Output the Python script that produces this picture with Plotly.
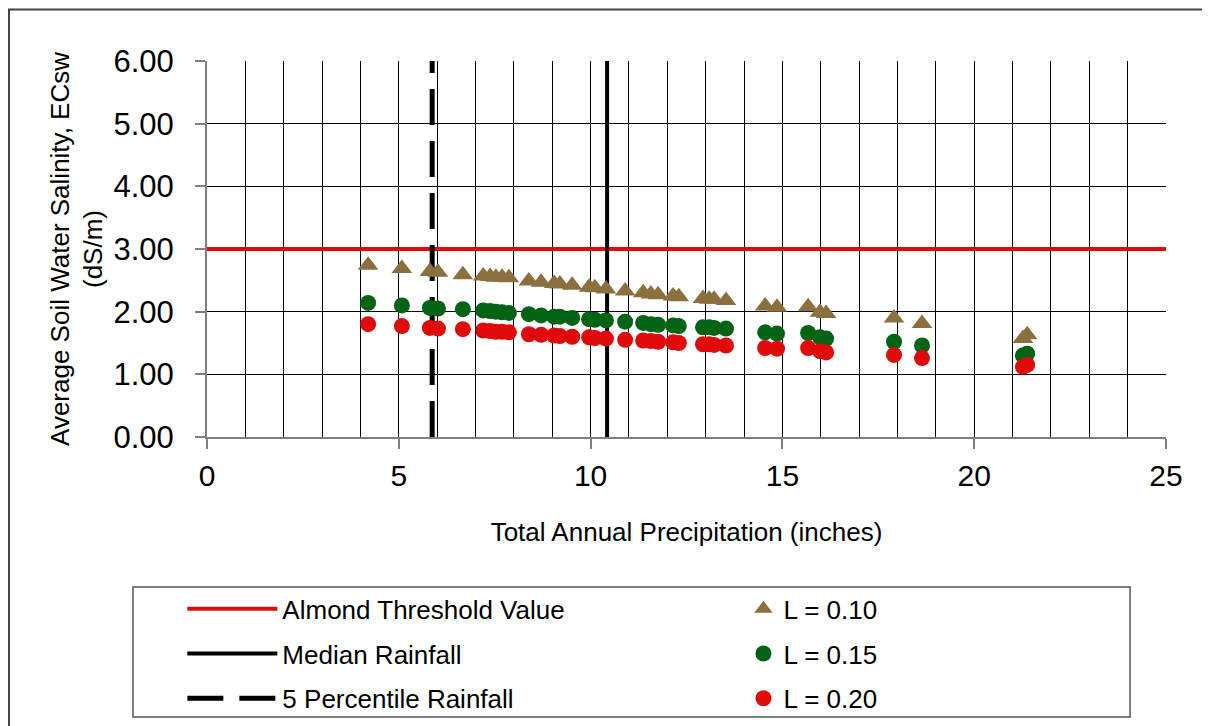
import plotly.graph_objects as go

# Datos
precip = [4.20, 5.08, 5.81, 6.02, 6.67, 7.20, 7.38, 7.53, 7.69, 7.87,
          8.39, 8.71, 9.05, 9.20, 9.52, 9.96, 10.11, 10.40, 10.90, 11.37,
          11.57, 11.76, 12.15, 12.30, 12.93, 13.09, 13.22, 13.53, 14.55, 14.86,
          15.67, 15.98, 16.14, 17.91, 18.64, 21.27, 21.38]

ec_l010 = [2.74, 2.69, 2.64, 2.63, 2.59, 2.57, 2.56, 2.55, 2.55, 2.54,
           2.49, 2.47, 2.45, 2.44, 2.42, 2.39, 2.38, 2.36, 2.33, 2.30,
           2.28, 2.27, 2.25, 2.24, 2.21, 2.20, 2.20, 2.18, 2.09, 2.07,
           2.08, 1.99, 1.97, 1.90, 1.81, 1.57, 1.63]

ec_l015 = [2.14, 2.10, 2.06, 2.05, 2.04, 2.02, 2.01, 2.00, 1.99, 1.98,
           1.96, 1.94, 1.92, 1.92, 1.90, 1.88, 1.87, 1.86, 1.84, 1.82,
           1.80, 1.79, 1.78, 1.77, 1.75, 1.75, 1.74, 1.73, 1.67, 1.65,
           1.66, 1.59, 1.57, 1.52, 1.46, 1.30, 1.33]

ec_l020 = [1.80, 1.77, 1.74, 1.73, 1.72, 1.70, 1.69, 1.68, 1.68, 1.67,
           1.64, 1.63, 1.62, 1.61, 1.60, 1.59, 1.58, 1.57, 1.55, 1.54,
           1.53, 1.52, 1.51, 1.50, 1.48, 1.48, 1.47, 1.46, 1.42, 1.41,
           1.42, 1.37, 1.35, 1.31, 1.26, 1.12, 1.15]

threshold_x = [0, 25]
threshold_y = [3.0, 3.0]
median_x = [10.43, 10.43]
pct5_x = [5.87, 5.87]
vline_y = [0, 6]

font = "Liberation Sans, Arial, sans-serif"

fig = go.Figure()

# Líneas de referencia
fig.add_trace(go.Scatter(
    x=threshold_x, y=threshold_y, mode="lines", name="Almond Threshold Value",
    line=dict(color="#e00a0a", width=4), legend="legend", legendgroup="a", legendrank=1))
fig.add_trace(go.Scatter(
    x=median_x, y=vline_y, mode="lines", name="Median Rainfall",
    line=dict(color="black", width=4), legend="legend", legendgroup="b", legendrank=2))
fig.add_trace(go.Scatter(
    x=pct5_x, y=vline_y, mode="lines", name="5 Percentile Rainfall",
    line=dict(color="black", width=5, dash="36px,16px"), legend="legend",
    legendgroup="c", legendrank=3))

# Series de salinidad
fig.add_trace(go.Scatter(
    x=precip, y=ec_l010, mode="markers", name="L = 0.10",
    marker=dict(symbol="triangle-up", size=18, color="#8b6f3f"),
    legend="legend2", legendgroup="d", legendrank=4))
fig.add_trace(go.Scatter(
    x=precip, y=ec_l015, mode="markers", name="L = 0.15",
    marker=dict(symbol="circle", size=16, color="#006414"),
    legend="legend2", legendgroup="e", legendrank=5))
fig.add_trace(go.Scatter(
    x=precip, y=ec_l020, mode="markers", name="L = 0.20",
    marker=dict(symbol="circle", size=16, color="#e00a0a"),
    legend="legend2", legendgroup="f", legendrank=6))

# la página html añade 8px de margen, así que la figura es 8px más pequeña
fig.update_layout(
    width=1202, height=718,
    margin=dict(l=199, r=44, t=53, b=289),
    paper_bgcolor="white", plot_bgcolor="white",
    font=dict(family=font, color="black"),
    showlegend=True,
    # yref container para que la leyenda no empuje el margen inferior
    legend=dict(x=-0.0257, y=0.196, xanchor="left", yanchor="top", yref="container",
                font=dict(size=26, family=font), bgcolor="rgba(0,0,0,0)",
                itemwidth=90, tracegroupgap=8),
    legend2=dict(x=0.5594, y=0.196, xanchor="left", yanchor="top", yref="container",
                 font=dict(size=26, family=font), bgcolor="rgba(0,0,0,0)",
                 tracegroupgap=8),
    shapes=[
        # recuadro de la leyenda
        dict(type="rect", xref="paper", yref="paper",
             x0=-0.0772, x1=0.9625, y0=-0.399, y1=-0.745,
             line=dict(color="#555555", width=1.5)),
        # marco exterior
        dict(type="rect", xref="paper", yref="paper",
             x0=-0.2065, x1=1.12, y0=1.137, y1=-0.9,
             line=dict(color="#444444", width=2)),
    ],
)

fig.update_xaxes(
    range=[0, 25], dtick=5, tick0=0, automargin=False,
    showline=True, linecolor="#808080", linewidth=2,
    ticks="outside", ticklen=10, tickcolor="#808080", tickwidth=2,
    ticklabelstandoff=1,
    tickfont=dict(size=30, family=font),
    showgrid=True, gridcolor="black", gridwidth=1,
    minor=dict(dtick=1, showgrid=True, gridcolor="black", gridwidth=1, ticks=""),
    zeroline=False,
    title=dict(text="Total Annual Precipitation (inches)",
               font=dict(size=26, family=font), standoff=32),
)

fig.update_yaxes(
    range=[0, 6], dtick=1, tickformat=".2f", automargin=False,
    showline=True, linecolor="#808080", linewidth=2,
    ticks="outside", ticklen=10, tickcolor="#808080", tickwidth=2,
    ticklabelstandoff=15,
    tickfont=dict(size=31, family=font),
    showgrid=True, gridcolor="black", gridwidth=1,
    zeroline=False,
    title=dict(text="Average Soil Water Salinity, ECsw<br>(dS/m)",
               font=dict(size=26, family=font), standoff=3),
)

fig.write_html("out.html")
